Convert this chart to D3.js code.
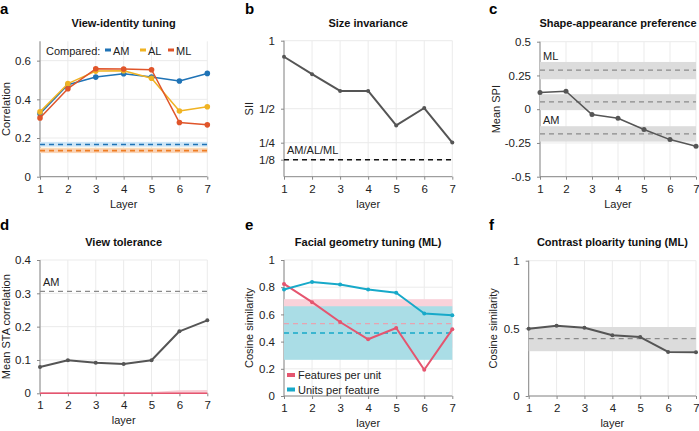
<!DOCTYPE html>
<html><head><meta charset="utf-8">
<script src="https://cdn.jsdelivr.net/npm/d3@7/dist/d3.min.js"></script>
<style>
body{margin:0;background:#fff;}
svg{font-family:"Liberation Sans",Arial,sans-serif;}
</style></head><body>
<svg id="c" width="699" height="431"></svg>
<script>
// ---------- data ----------
const layers = [1,2,3,4,5,6,7];
// a
const aAM = [0.325,0.475,0.515,0.532,0.515,0.495,0.534];
const aAL = [0.335,0.481,0.546,0.548,0.509,0.340,0.362];
const aML = [0.304,0.455,0.558,0.557,0.553,0.280,0.268];
const aBaseAM = {mean:0.167, lo:0.155, hi:0.180};
const aBaseAL = {mean:0.135, lo:0.122, hi:0.150};
const aBaseML = {mean:0.135, lo:0.124, hi:0.146};
const aTicks = [0,0.2,0.4,0.6];
// b
const bSII = [0.882,0.754,0.631,0.631,0.377,0.505,0.251];
const bBase = 0.125;
const bTicks = [0.125,0.25,0.5,1];
const bTickLabels = ["1/8","1/4","1/2","1"];
// c
const cSPI = [0.123,0.133,-0.040,-0.067,-0.150,-0.225,-0.274];
const cBands = [
  {name:"ML", mean:0.289, lo:0.222, hi:0.350},
  {name:"",   mean:0.054, lo:-0.007, hi:0.111},
  {name:"AM", mean:-0.183, lo:-0.240, hi:-0.126}
];
const cTicks = [-0.5,-0.25,0,0.25,0.5];
const cTickLabels = ["-0.5","-0.25","0","0.25","0.5"];
// d
const dSTA = [0.079,0.099,0.092,0.088,0.099,0.186,0.219];
const dAM = 0.306;
const dNull = [0,0,0,0,0,0,0];
const dNullHi = [0.003,0.003,0.003,0.003,0.004,0.009,0.010];
const dNullLo = [-0.002,-0.002,-0.002,-0.002,-0.002,-0.002,-0.002];
const dTicks = [0,0.1,0.2,0.3,0.4];
// e
const eFPU = [0.824,0.690,0.544,0.417,0.500,0.193,0.490];
const eUPF = [0.783,0.839,0.820,0.783,0.759,0.607,0.593];
const eBaseFPU = {mean:0.532, lo:0.354, hi:0.712};
const eBaseUPF = {mean:0.463, lo:0.266, hi:0.660};
const eTicks = [0,0.2,0.4,0.6,0.8,1];
// f
const fCS = [0.497,0.520,0.505,0.449,0.436,0.326,0.324];
const fBase = {mean:0.424, lo:0.331, hi:0.510};
const fTicks = [0,0.5,1];

// ---------- helpers ----------
const svg = d3.select("#c");
const GRID = "#ebebeb", AX = "#888", TXT = "#222", DARK = "#555";
const FS = "11px";

function panel(o){
  const g = svg.append("g");
  const x = d3.scaleLinear().domain([1,7]).range([o.x0,o.x1]);
  const y = d3.scaleLinear().domain(o.ydom).range([o.y1,o.y0]);
  g.selectAll(".vg").data(layers).enter().append("line")
    .attr("x1",d=>x(d)).attr("x2",d=>x(d)).attr("y1",o.y0).attr("y2",o.y1)
    .attr("stroke",GRID).attr("stroke-width",1);
  g.selectAll(".hg").data(o.ticks).enter().append("line")
    .attr("x1",o.x0).attr("x2",o.x1).attr("y1",d=>y(d)).attr("y2",d=>y(d))
    .attr("stroke",GRID).attr("stroke-width",1);
  const ya = d3.axisLeft(y).tickValues(o.ticks).tickSize(3).tickPadding(6)
    .tickFormat((d,i)=>o.tickLabels?o.tickLabels[i]:d3.format("")(d));
  const xa = d3.axisBottom(x).tickValues(layers).tickSize(3).tickPadding(5).tickFormat(d3.format("d"));
  const yg = g.append("g").attr("transform",`translate(${o.x0},0)`).call(ya);
  const xg = g.append("g").attr("transform",`translate(0,${o.y1})`).call(xa);
  [yg,xg].forEach(a=>{
    a.select(".domain").attr("stroke",AX);
    a.selectAll(".tick line").attr("stroke",AX);
    a.selectAll("text").attr("fill",TXT).style("font-size","11.5px").style("font-family","Liberation Sans, Arial, sans-serif");
  });
  xg.selectAll("path.domain").attr("d",`M${o.x0},0H${o.x1}`);
  yg.selectAll("path.domain").attr("d",`M0,${o.y0}V${o.y1}`);
  g.append("text").attr("x",(o.x0+o.x1)/2).attr("y",o.titleY).attr("text-anchor","middle")
    .style("font-size","11px").style("font-weight","bold").attr("fill","#111").text(o.title);
  g.append("text").attr("x",o.letterX).attr("y",o.letterY).style("font-size","15px")
    .style("font-weight","bold").attr("fill","#000").text(o.letter);
  g.append("text").attr("x",(o.x0+o.x1)/2).attr("y",o.y1+31).attr("text-anchor","middle")
    .style("font-size",FS).attr("fill",TXT).text(o.xlabel);
  g.append("text").attr("transform",`translate(${o.ylabX},${(o.y0+o.y1)/2}) rotate(-90)`)
    .attr("text-anchor","middle").style("font-size",FS).attr("fill",TXT).text(o.ylabel);
  return {g,x,y};
}
function band(p,b,fill,op){
  p.g.append("rect").attr("x",p.x(1)).attr("width",p.x(7)-p.x(1))
    .attr("y",p.y(b.hi)).attr("height",p.y(b.lo)-p.y(b.hi)).attr("fill",fill).attr("opacity",op||1);
}
function hdash(p,v,color,w,dash){
  p.g.append("line").attr("x1",p.x(1)).attr("x2",p.x(7)).attr("y1",p.y(v)).attr("y2",p.y(v))
    .attr("stroke",color).attr("stroke-width",w).attr("stroke-dasharray",dash);
}
function series(p,vals,color,w,r){
  const line = d3.line().x((d,i)=>p.x(layers[i])).y(d=>p.y(d));
  p.g.append("path").datum(vals).attr("d",line).attr("fill","none").attr("stroke",color)
    .attr("stroke-width",w).attr("stroke-linejoin","round");
  if(r>0) p.g.selectAll(null).data(vals).enter().append("circle")
    .attr("cx",(d,i)=>p.x(layers[i])).attr("cy",d=>p.y(d)).attr("r",r).attr("fill",color);
}

// ---------- panel a ----------
const BLUE="#1f73b6", YEL="#f0b323", ORG="#e0552a";
const pa = panel({x0:40,x1:207.3,y0:41.3,y1:176.7,ydom:[0,0.7],ticks:aTicks,
  title:"View-identity tuning",titleY:27,letter:"a",letterX:0,letterY:14,
  xlabel:"Layer",ylabel:"Correlation",ylabX:10});
band(pa,aBaseAM,"#cfe6f6");
band(pa,aBaseAL,"#fbe3b8");
band(pa,aBaseML,"#f9cdb5",0.8);
hdash(pa,aBaseAM.mean,BLUE,1.5,"5,4");
hdash(pa,aBaseML.mean,"#ef7d22",1.8,"5,4");
series(pa,aAM,BLUE,1.5,2.8);
series(pa,aAL,YEL,1.5,2.8);
series(pa,aML,ORG,1.5,2.8);
const leg = pa.g.append("g");
leg.append("text").attr("x",46).attr("y",54.5).style("font-size",FS).attr("fill",TXT).text("Compared:");
[[BLUE,"AM",105],[YEL,"AL",140],[ORG,"ML",168]].forEach(([c,t,lx])=>{
  leg.append("rect").attr("x",lx).attr("y",48.5).attr("width",6).attr("height",3).attr("fill",c);
  leg.append("text").attr("x",lx+8).attr("y",54.5).style("font-size",FS).attr("fill",TXT).text(t);
});

// ---------- panel b ----------
const pb = panel({x0:284,x1:452.3,y0:40.7,y1:176.7,ydom:[0,1],ticks:bTicks,tickLabels:bTickLabels,
  title:"Size invariance",titleY:27,letter:"b",letterX:245,letterY:14,
  xlabel:"layer",ylabel:"SII",ylabX:253});
hdash(pb,bBase,"#111",1.5,"5,4");
pb.g.append("text").attr("x",287).attr("y",pb.y(bBase)-6).style("font-size",FS).attr("fill",TXT).text("AM/AL/ML");
series(pb,bSII,DARK,2,2);

// ---------- panel c ----------
const pc = panel({x0:540,x1:696,y0:41.7,y1:176.7,ydom:[-0.5,0.5],ticks:cTicks,tickLabels:cTickLabels,
  title:"Shape-appearance preference",titleY:27,letter:"c",letterX:489,letterY:14,
  xlabel:"Layer",ylabel:"Mean SPI",ylabX:500});
cBands.forEach(b=>{
  band(pc,b,"#dcdcdc");
  hdash(pc,b.mean,"#8a8a8a",1.3,"5,4");
  if(b.name) pc.g.append("text").attr("x",543).attr("y",pc.y(b.hi)-2).style("font-size",FS).attr("fill",TXT).text(b.name);
});
series(pc,cSPI,DARK,1.5,2.5);

// ---------- panel d ----------
const pd = panel({x0:40,x1:207.3,y0:260,y1:393.3,ydom:[0,0.4],ticks:dTicks,
  title:"View tolerance",titleY:246,letter:"d",letterX:0,letterY:230,
  xlabel:"layer",ylabel:"Mean STA correlation",ylabX:10});
hdash(pd,dAM,"#8a8a8a",1.3,"5,4");
pd.g.append("text").attr("x",43).attr("y",286).style("font-size",FS).attr("fill",TXT).text("AM");
pd.g.append("path").datum(layers).attr("fill","#f7c8d0").attr("opacity",0.9)
  .attr("d",d3.area().x(d=>pd.x(d)).y0((d,i)=>pd.y(dNullLo[i])).y1((d,i)=>pd.y(dNullHi[i])));
series(pd,dNull,"#e5556f",1.5,0);
series(pd,dSTA,DARK,2,2);

// ---------- panel e ----------
const PINK="#e5556f", CYAN="#17a9c9";
const pe = panel({x0:284,x1:452.3,y0:260,y1:396,ydom:[0,1],ticks:eTicks,
  title:"Facial geometry tuning (ML)",titleY:246,letter:"e",letterX:245,letterY:230,
  xlabel:"layer",ylabel:"Cosine similarity",ylabX:253});
band(pe,eBaseFPU,"#f9d2da");
band(pe,eBaseUPF,"#aadde6");
hdash(pe,eBaseFPU.mean,"#e8a3b0",1.3,"5,4");
hdash(pe,eBaseUPF.mean,CYAN,1.5,"5,4");
series(pe,eFPU,PINK,2,2);
series(pe,eUPF,CYAN,2,2);
[[PINK,"Features per unit",375],[CYAN,"Units per feature",389.5]].forEach(([c,t,ly])=>{
  pe.g.append("rect").attr("x",287).attr("y",ly-2).attr("width",8).attr("height",4).attr("fill",c);
  pe.g.append("text").attr("x",298).attr("y",ly+4).style("font-size",FS).attr("fill",TXT).text(t);
});

// ---------- panel f ----------
const pf = panel({x0:528.7,x1:696,y0:260.7,y1:396,ydom:[0,1],ticks:fTicks,
  title:"Contrast ploarity tuning (ML)",titleY:246,letter:"f",letterX:489,letterY:230,
  xlabel:"layer",ylabel:"Cosine similarity",ylabX:497});
band(pf,fBase,"#dcdcdc");
hdash(pf,fBase.mean,"#8a8a8a",1.3,"5,4");
series(pf,fCS,DARK,2,2);
</script></body></html>
